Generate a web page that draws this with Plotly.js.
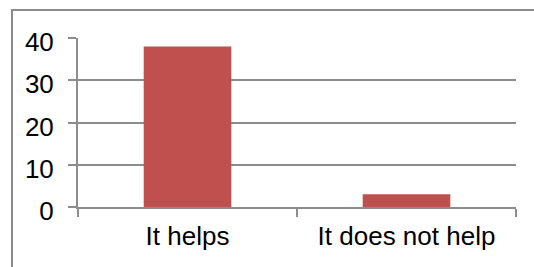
<!DOCTYPE html>
<html>
<head>
<meta charset="utf-8">
<script src="https://cdn.plot.ly/plotly-3.0.1.min.js"></script>
<style>html,body{margin:0;padding:0;background:#fff;}#chart{width:534px;height:267px;}</style>
</head>
<body>
<div id="chart"></div>
<script>
var categories = ["It helps", "It does not help"];
var values = [38, 3];
var yTicks = [0, 10, 20, 30, 40];

var W = 534, H = 267, L = 78, R = 18, T = 38, B = 60;
var pw = W - L - R, ph = H - T - B;
function px(x){ return (x - L) / pw; }
function py(y){ return (H - B - y) / ph; }

var data = [{
  type: "bar",
  x: categories,
  y: values,
  marker: {color: "#C0504D"},
  hoverinfo: "none"
}];

var layout = {
  width: W, height: H,
  margin: {l: L, r: R, t: T, b: B, pad: 0},
  paper_bgcolor: "#ffffff",
  plot_bgcolor: "#ffffff",
  showlegend: false,
  bargap: 0.6,
  font: {family: "Liberation Sans, Arial, sans-serif", size: 26, color: "#000000"},
  xaxis: {
    type: "category",
    showgrid: false,
    showline: true, linecolor: "#8c8c8c", linewidth: 2,
    ticks: "outside", tickson: "boundaries", ticklen: 8, tickwidth: 2, tickcolor: "#8c8c8c",
    ticklabelstandoff: 5,
    tickfont: {size: 26, color: "#000000"},
    zeroline: false,
    fixedrange: true
  },
  yaxis: {
    range: [0, 40],
    tickvals: yTicks,
    ticktext: yTicks.map(String),
    showgrid: true, gridcolor: "#8c8c8c", gridwidth: 2,
    showline: true, linecolor: "#8c8c8c", linewidth: 2,
    ticks: "outside", ticklen: 8, tickwidth: 2, tickcolor: "#8c8c8c",
    ticklabelstandoff: 9,
    ticklabelshift: 4,
    tickfont: {size: 26, color: "#000000"},
    zeroline: false,
    fixedrange: true
  },
  shapes: [{
    type: "rect", xref: "paper", yref: "paper", layer: "below",
    x0: px(12), x1: px(545), y0: py(275), y1: py(10),
    line: {color: "#8c8c8c", width: 2}
  }]
};

Plotly.newPlot("chart", data, layout, {displayModeBar: false, staticPlot: true});
</script>
</body>
</html>
